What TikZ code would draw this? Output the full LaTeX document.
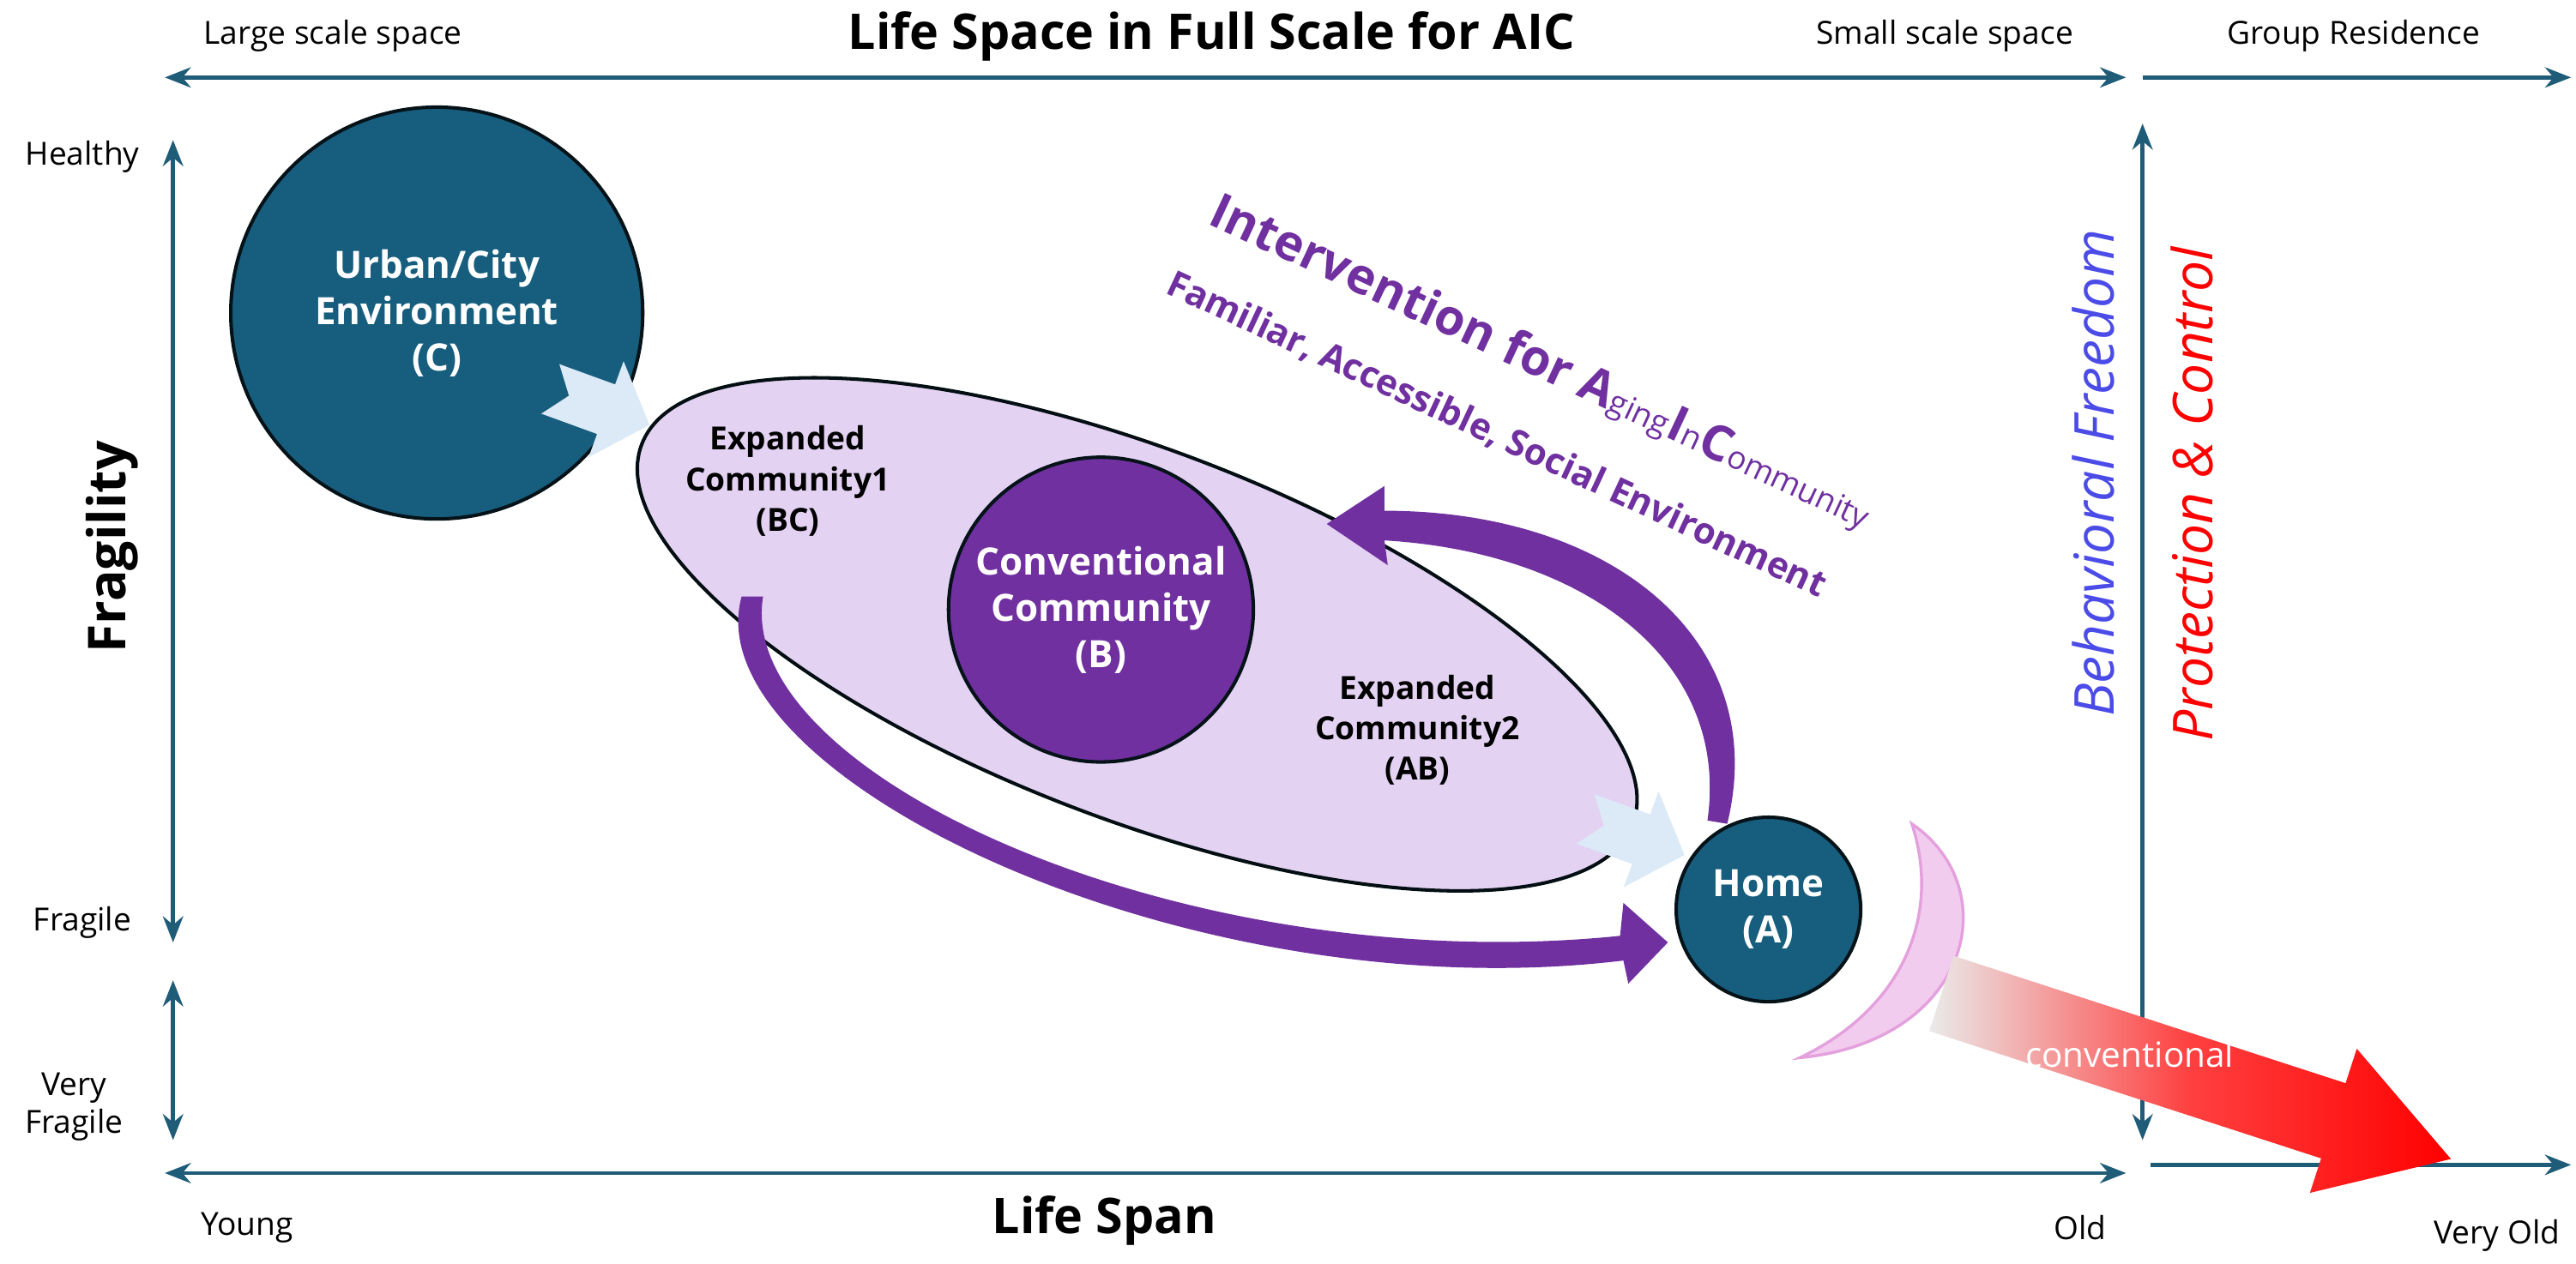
\documentclass[tikz,border=0pt]{standalone}
\usepackage{fontspec}
\setmainfont{Open Sans}
\usetikzlibrary{arrows.meta}
\definecolor{teal}{HTML}{175E7E}
\definecolor{axis}{HTML}{1F5C78}
\definecolor{purp}{HTML}{7030A0}
\definecolor{lav}{HTML}{E3D2F2}
\definecolor{lblue}{HTML}{DCE9F6}
\definecolor{pinkf}{HTML}{F2CCEE}
\definecolor{pinkd}{HTML}{E3A0DD}
\definecolor{bfree}{HTML}{4B4BE8}
\begin{document}
\begin{tikzpicture}[x=0.02cm,y=-0.02cm,
  ax/.style={draw=axis,line width=1.4pt,-{Stealth[length=9pt,width=7pt]}},
  axx/.style={draw=axis,line width=1.4pt,{Stealth[length=9pt,width=7pt]}-{Stealth[length=9pt,width=7pt]}},
  lab/.style={font=\fontsize{11}{13}\selectfont,text=black},
  big/.style={font=\fontsize{17}{20}\selectfont\bfseries},
  circ/.style={circle,draw=black!80!teal,line width=1.2pt,fill=teal,text=white,align=center,inner sep=0pt,font=\fontsize{13}{16}\selectfont\bfseries},
  ctext/.style={align=center,font=\fontsize{11}{14}\selectfont\bfseries,text=black},
  barrow/.style={fill=lblue}]
\useasboundingbox (0,0) rectangle (1563,767);
% axes
\coordinate (t1) at (100,47); \coordinate (t2) at (1290,47);
\coordinate (t3) at (1300,47); \coordinate (t4) at (1560,47);
\draw[axx] (t1) -- (t2);
\draw[ax] (t3) -- (t4);
\coordinate (l1) at (105,85); \coordinate (l2) at (105,572);
\coordinate (l3) at (105,595); \coordinate (l4) at (105,692);
\draw[axx] (l1) -- (l2);
\draw[axx] (l3) -- (l4);
\coordinate (b1) at (100,712); \coordinate (b2) at (1290,712);
\coordinate (b3) at (1305,707); \coordinate (b4) at (1560,707);
\draw[axx] (b1) -- (b2);
\draw[ax] (b3) -- (b4);
\coordinate (r1) at (1300,75); \coordinate (r2) at (1300,692);
\draw[axx] (r1) -- (r2);
% axis labels
\node[big] (title) at (735,22) {Life Space in Full Scale for AIC};
\node[lab] (lss) at (202,22) {Large scale space};
\node[lab] (sss) at (1180,22) {Small scale space};
\node[lab] (gr) at (1428,22) {Group Residence};
\node[lab] (hl) at (50,95) {Healthy};
\node[lab] (fr) at (50,560) {Fragile};
\node[lab,align=center] (vf) at (45,672) {Very\\Fragile};
\node[font=\fontsize{18}{20}\selectfont\bfseries,rotate=90] (fg) at (68,332) {Fragility};
\node[lab] (yg) at (150,745) {Young};
\node[big] (ls) at (670,741) {Life Span};
\node[lab] (old) at (1262,745) {Old};
\node[lab] (vold) at (1515,750) {Very Old};
\node[rotate=90,text=bfree,font=\fontsize{19}{22}\selectfont\itshape] (bf) at (1270,287) {Behavioral Freedom};
\node[rotate=90,text=red,font=\fontsize{19}{22}\selectfont\itshape] (pc) at (1330,300) {Protection \& Control};
% ellipse
\draw[fill=lav,draw=black!85!teal,line width=1.2pt,rotate around={-21:(690,385)}] (690,385) ellipse (322 and 112);
\node[circ,minimum size=5cm] (city) at (265,190) {Urban/City\\Environment\\(C)};
% light blue arrows
\foreach \c in {(364,247),(992,508)}{
  \fill[barrow,shift={\c},rotate=-20] (-32,-16) -- (4,-16) -- (4,-31) -- (32,0) -- (4,31) -- (4,16) -- (-32,16) -- (-20,0) -- cycle;}
\node[circ,fill=purp,minimum size=3.7cm] (conv) at (668,370) {Conventional\\Community\\(B)};
\node[ctext] (e1) at (478,292) {Expanded\\Community1\\(BC)};
\node[ctext] (e2) at (860,443) {Expanded\\Community2\\(AB)};
% purple curved arrows
\fill[purp] (450,362) .. controls (420,470) and (720,615) .. (985,583) -- (988,597) -- (1012,572) -- (985,548) -- (983,568) .. controls (720,595) and (445,470) .. (463,362) -- cycle;
\fill[purp] (1036,498) .. controls (1050,400) and (960,335) .. (840,328) -- (842,343) -- (805,318) -- (840,295) -- (840,310) .. controls (980,310) and (1075,390) .. (1048,500) -- cycle;
\node[circ,minimum size=2.24cm] (home) at (1073,552) {Home\\(A)};
% crescent
\draw[fill=pinkf,draw=pinkd,line width=1pt] (1160,500) .. controls (1218,540) and (1195,632) .. (1092,642) .. controls (1155,612) and (1178,555) .. (1160,500) -- cycle;
% red arrow
\begin{scope}[shift={(1178,603)},rotate=-18]
\shade[left color=black!8,right color=red,middle color=red!75] (0,-24) -- (250,-24) -- (250,-46) -- (325,0) -- (250,46) -- (250,24) -- (0,24) -- cycle;
\node[text=white,font=\fontsize{12}{14}\selectfont] (cv) at (120,0) {conventional};
\end{scope}
% intervention text
\node[rotate=-25,text=purp,font=\fontsize{17}{20}\selectfont\bfseries] (iv) at (935,220) {Intervention for A{\fontsize{11}{12}\selectfont\mdseries ging}I{\fontsize{11}{12}\selectfont\mdseries n}C{\fontsize{11}{12}\selectfont\mdseries ommunity}};
\node[rotate=-25,text=purp,font=\fontsize{12.5}{14}\selectfont\bfseries] (fa) at (908,264) {Familiar, Accessible, Social Environment};
\end{tikzpicture}
\end{document}
